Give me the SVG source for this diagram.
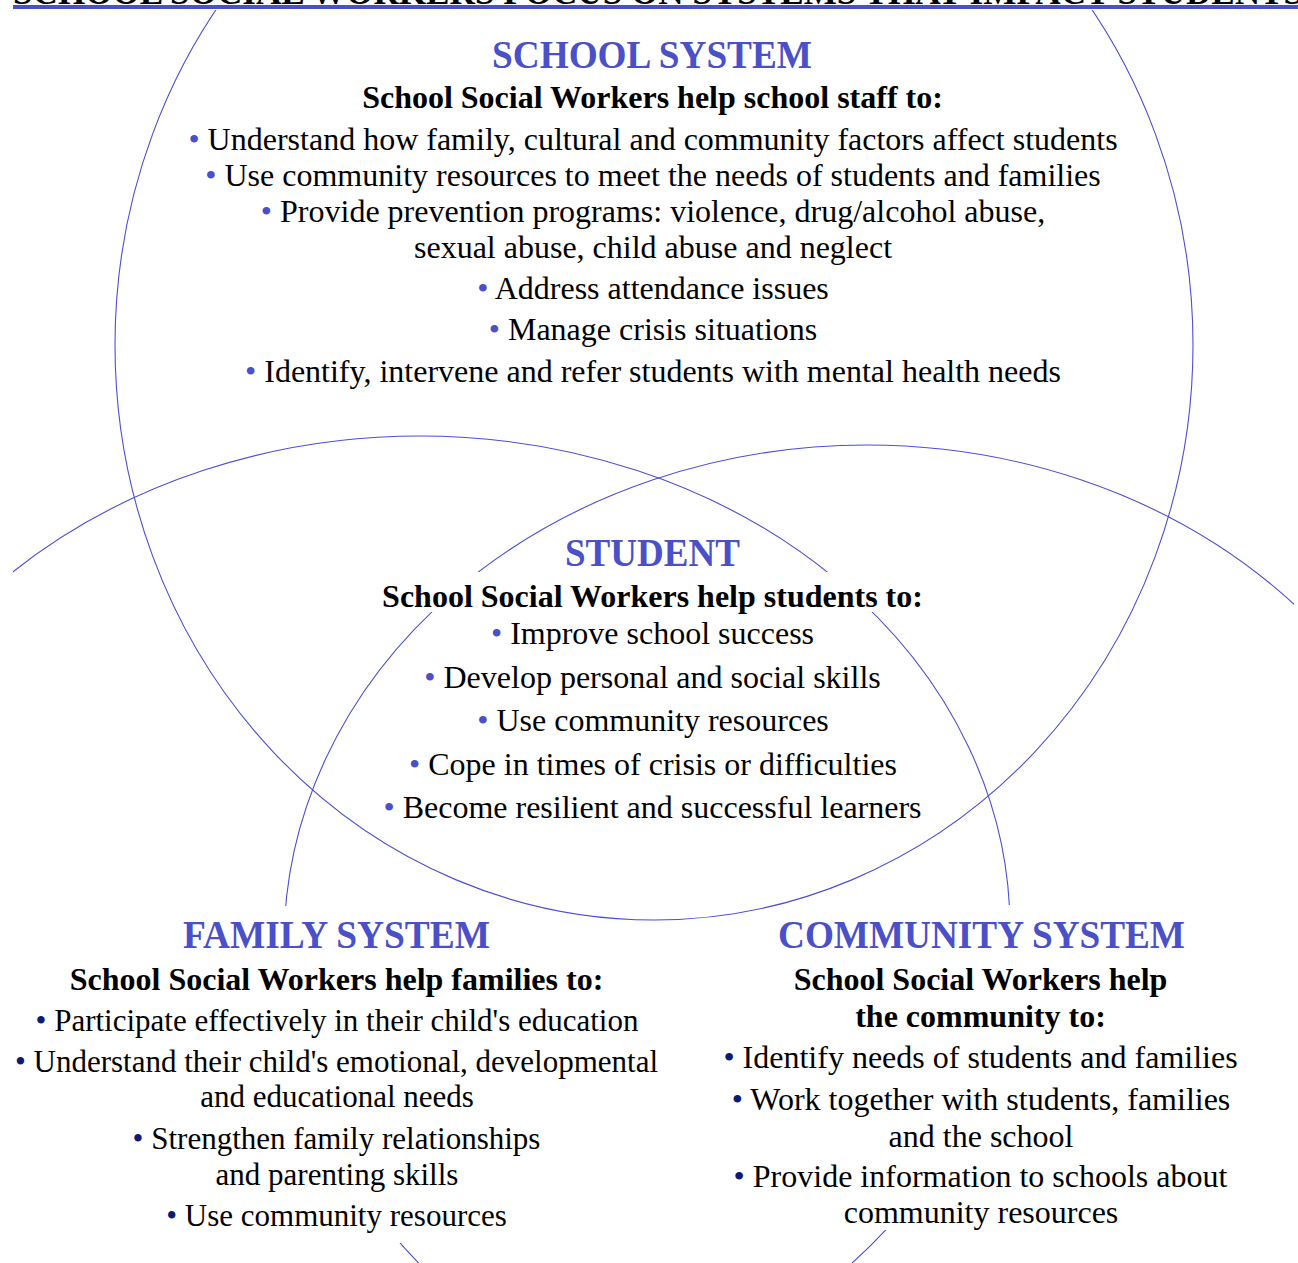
<svg xmlns="http://www.w3.org/2000/svg" width="1298" height="1263" viewBox="0 0 1298 1263">
<style>
.ring{fill:none;stroke:#4b4fd4;stroke-width:1.1}
.bg{fill:#ffffff}
.t{font-family:"Liberation Serif","Times New Roman",serif;text-anchor:middle}
.title{font-weight:bold;font-size:40px;fill:#4a50c8}
.head{font-weight:bold;font-size:32px;fill:#000}
.body{font-size:32px;fill:#000}
.fam{font-size:31px;fill:#000}
.b1{fill:#4a50c8}
.b2{fill:#0d1a70}
</style>
<defs>
  <clipPath id="frame"><rect x="13" y="0" width="1281" height="1263"/></clipPath>
</defs>
<rect x="0" y="0" width="1298" height="1263" fill="#ffffff"/>
<g id="connectors" clip-path="url(#frame)">
  <ellipse id="ring-school" class="ring" cx="654" cy="345" rx="539" ry="575"/>
  <ellipse id="ring-family" class="ring" cx="420" cy="928" rx="590" ry="492"/>
  <ellipse id="ring-community" class="ring" cx="867" cy="944" rx="583" ry="499"/>
</g>
<g id="heading">
  <rect class="bg" x="13" y="-40" width="1285" height="50"/>
  <text x="13" y="4" font-family="Liberation Serif, Times New Roman, serif" font-weight="bold" font-size="36" fill="#000" textLength="1290" lengthAdjust="spacingAndGlyphs">SCHOOL SOCIAL WORKERS FOCUS ON SYSTEMS THAT IMPACT STUDENTS</text>
  <rect x="13" y="5" width="1285" height="4" fill="#4a50c8"/>
</g>
<g id="school">
  <text class="t title" x="652" y="68" textLength="320" lengthAdjust="spacingAndGlyphs">SCHOOL SYSTEM</text>
  <text class="t head" x="652.5" y="108">School Social Workers help school staff to:</text>
  <text class="t body" x="653" y="150"><tspan class="b1">•</tspan> Understand how family, cultural and community factors affect students</text>
  <text class="t body" x="653" y="186"><tspan class="b1">•</tspan> Use community resources to meet the needs of students and families</text>
  <text class="t body" x="653" y="222"><tspan class="b1">•</tspan> Provide prevention programs: violence, drug/alcohol abuse,</text>
  <text class="t body" x="653" y="258">sexual abuse, child abuse and neglect</text>
  <text class="t body" x="653" y="299"><tspan class="b1">•</tspan> Address attendance issues</text>
  <text class="t body" x="653" y="340"><tspan class="b1">•</tspan> Manage crisis situations</text>
  <text class="t body" x="653" y="382"><tspan class="b1">•</tspan> Identify, intervene and refer students with mental health needs</text>
</g>
<g id="student">
  <rect class="bg" x="560" y="532" width="186" height="40"/>
  <rect class="bg" x="375" y="572" width="556" height="40"/>
  <text class="t title" x="652.5" y="566" textLength="175" lengthAdjust="spacingAndGlyphs">STUDENT</text>
  <text class="t head" x="652.5" y="607">School Social Workers help students to:</text>
  <text class="t body" x="652.5" y="644"><tspan class="b1">•</tspan> Improve school success</text>
  <text class="t body" x="652.5" y="688"><tspan class="b1">•</tspan> Develop personal and social skills</text>
  <text class="t body" x="653" y="731"><tspan class="b1">•</tspan> Use community resources</text>
  <text class="t body" x="653" y="775"><tspan class="b1">•</tspan> Cope in times of crisis or difficulties</text>
  <text class="t body" x="652.5" y="818"><tspan class="b1">•</tspan> Become resilient and successful learners</text>
</g>
<g id="family">
  <rect class="bg" x="10" y="906" width="515" height="337"/>
  <text class="t title" x="336.5" y="948" textLength="307" lengthAdjust="spacingAndGlyphs">FAMILY SYSTEM</text>
  <text class="t head" x="336.5" y="990">School Social Workers help families to:</text>
  <text class="t fam" x="337" y="1031"><tspan class="b2">•</tspan> Participate effectively in their child's education</text>
  <text class="t fam" x="336.5" y="1072"><tspan class="b2">•</tspan> Understand their child's emotional, developmental</text>
  <text class="t fam" x="337" y="1107">and educational needs</text>
  <text class="t fam" x="336.5" y="1149"><tspan class="b2">•</tspan> Strengthen family relationships</text>
  <text class="t fam" x="337" y="1185">and parenting skills</text>
  <text class="t fam" x="336.5" y="1226"><tspan class="b2">•</tspan> Use community resources</text>
</g>
<g id="community">
  <rect class="bg" x="840" y="905" width="410" height="325"/>
  <text class="t title" x="981.5" y="948" textLength="407" lengthAdjust="spacingAndGlyphs">COMMUNITY SYSTEM</text>
  <text class="t head" x="980.5" y="990">School Social Workers help</text>
  <text class="t head" x="980.5" y="1027">the community to:</text>
  <text class="t body" x="980.5" y="1068"><tspan class="b2">•</tspan> Identify needs of students and families</text>
  <text class="t body" x="981" y="1110"><tspan class="b2">•</tspan> Work together with students, families</text>
  <text class="t body" x="981" y="1147">and the school</text>
  <text class="t body" x="980.5" y="1187"><tspan class="b2">•</tspan> Provide information to schools about</text>
  <text class="t body" x="981" y="1223">community resources</text>
</g>
</svg>
